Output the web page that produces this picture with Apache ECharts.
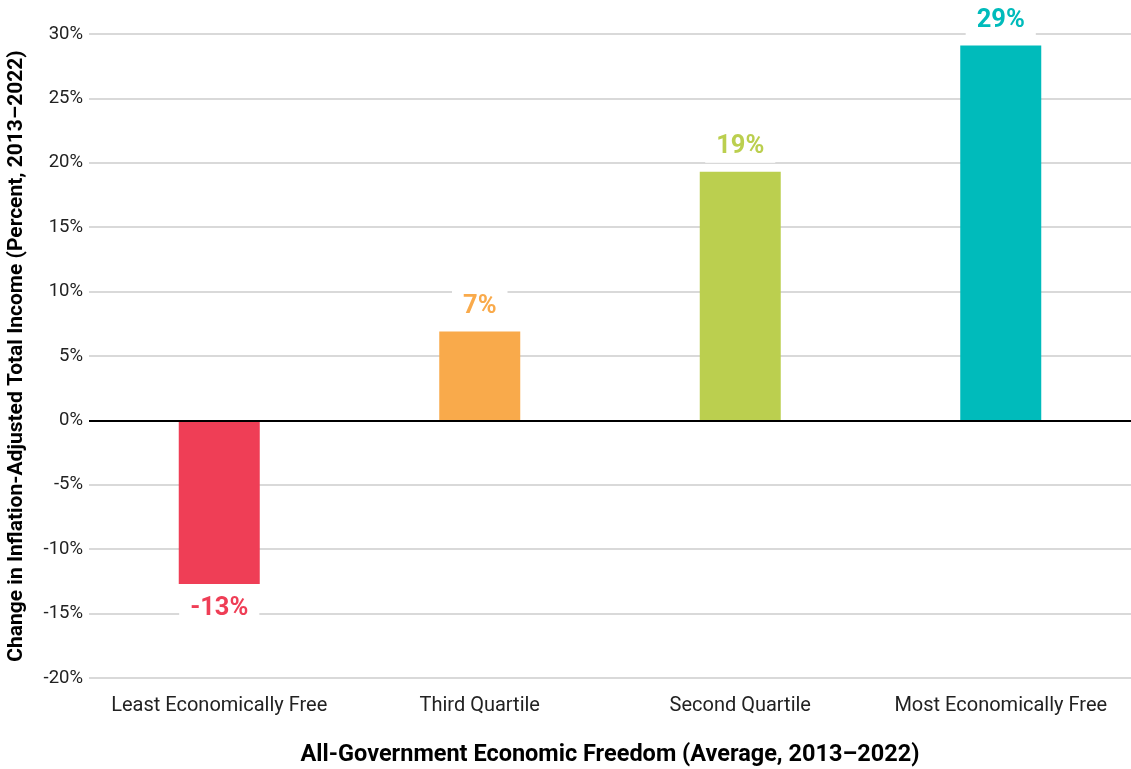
<!DOCTYPE html>
<html>
<head>
<meta charset="utf-8">
<script src="https://cdn.jsdelivr.net/npm/echarts@6/dist/echarts.min.js"></script>
<style>
html,body{margin:0;padding:0;background:#fff;}
#chart{width:1131px;height:769px;}
</style>
</head>
<body>
<div id="chart"></div>
<script>
const categories = ['Least Economically Free', 'Third Quartile', 'Second Quartile', 'Most Economically Free'];
const values = [-12.7, 6.9, 19.3, 29.1];
const colors = ['#EF3E56', '#F9AA4B', '#BBCF4F', '#00BBBB'];
const yTicks = { min: -20, max: 30, interval: 5 };
const xTitle = 'All-Government Economic Freedom (Average, 2013\u20132022)';
const yTitle = 'Change in Inflation-Adjusted Total Income (Percent, 2013\u20132022)';

const FONT = 'Roboto';
const chart = echarts.init(document.getElementById('chart'), null, { renderer: 'canvas' });
chart.setOption({
  animation: false,
  backgroundColor: '#fff',
  grid: { left: 89, right: 0, top: 34, bottom: 91, containLabel: false, outerBoundsMode: 'none' },
  xAxis: {
    type: 'category',
    data: categories,
    axisLine: { show: false, onZero: false },
    axisTick: { show: false },
    axisLabel: { color: '#222', fontFamily: FONT, fontSize: 20, margin: 18, interval: 0 },
    name: xTitle,
    nameLocation: 'middle',
    nameGap: 65,
    nameTextStyle: { color: '#000', fontFamily: FONT, fontWeight: 'bold', fontSize: 23.5 }
  },
  yAxis: {
    type: 'value',
    min: yTicks.min, max: yTicks.max, interval: yTicks.interval,
    axisLine: { show: false },
    axisTick: { show: false },
    axisLabel: { color: '#222', fontFamily: FONT, fontSize: 18.5, margin: 6, formatter: v => v + '%' },
    splitLine: { lineStyle: { color: '#d9d9d9', width: 2 } },
    name: yTitle,
    nameLocation: 'middle',
    nameGap: 62,
    nameRotate: 90,
    nameTextStyle: { color: '#000', fontFamily: FONT, fontWeight: 'bold', fontSize: 21 }
  },
  series: [{
    type: 'bar',
    barWidth: 81,
    data: values.map((v, i) => ({
      value: v,
      itemStyle: { color: colors[i] },
      label: {
        show: true,
        position: v >= 0 ? 'top' : 'bottom',
        distance: 9,
        color: colors[i],
        fontFamily: FONT,
        fontWeight: 'bold',
        fontSize: 25.5,
        backgroundColor: '#fff',
        padding: [3, 11, 3, 11],
        formatter: p => Math.round(p.value) + '%'
      }
    })),
    markLine: {
      silent: true,
      symbol: ['none', 'none'],
      label: { show: false },
      lineStyle: { color: '#000', width: 2, type: 'solid' },
      data: [{ yAxis: 0 }]
    }
  }]
});
</script>
</body>
</html>
